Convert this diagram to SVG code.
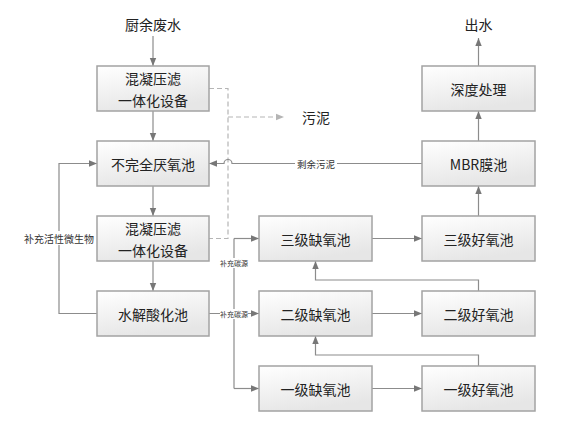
<svg xmlns="http://www.w3.org/2000/svg" width="575" height="426" viewBox="0 0 575 426">
<style>
.box{fill:url(#g);stroke:#a3a3a3;stroke-width:1.5}
.t{font-family:"Noto Sans CJK SC","Noto Sans",sans-serif;font-size:14px;fill:#222;text-anchor:middle;dominant-baseline:central}
.s{font-family:"Noto Sans CJK SC","Noto Sans",sans-serif;fill:#333;text-anchor:middle;dominant-baseline:central}
.ln{fill:none;stroke:#8c8c8c;stroke-width:1.2}
.ar{marker-end:url(#a)}
.d{fill:none;stroke:#b5b5b5;stroke-width:1.2;stroke-dasharray:5,3}
.bg{fill:#fff}
</style>
<defs>
<linearGradient id="g" x1="0" y1="0" x2="0.35" y2="1">
<stop offset="0" stop-color="#ffffff"/>
<stop offset="1" stop-color="#e6e6e6"/>
</linearGradient>
<marker id="a" viewBox="0 0 8 8" refX="8" refY="4" markerWidth="8" markerHeight="8" markerUnits="userSpaceOnUse" orient="auto">
<path d="M0,0.8 L8,4 L0,7.2 z" fill="#777"/>
</marker>
<marker id="ad" viewBox="0 0 8 8" refX="8" refY="4" markerWidth="8" markerHeight="8" markerUnits="userSpaceOnUse" orient="auto">
<path d="M0,0.8 L8,4 L0,7.2 z" fill="#b5b5b5"/>
</marker>
</defs>
<rect width="575" height="426" fill="#fff"/>

<g id="connectors">
<path class="ln ar" d="M153,36 V66"/>
<path class="ln ar" d="M153,111 V141"/>
<path class="ln ar" d="M153,186 V216"/>
<path class="ln ar" d="M153,261 V291"/>
<path class="ln ar" d="M97,313.5 H59 V163.5 H97"/>
<path class="d" d="M209,88.5 H228 V238.5 H209"/>
<path class="d" d="M228,117 H284" marker-end="url(#ad)"/>
<path class="ln ar" d="M422,163.5 H232 A4,4 0 0 0 224,163.5 H209"/>
<path class="ln ar" d="M478.5,141 V111"/>
<path class="ln ar" d="M478.5,66 V38"/>
<path class="ln ar" d="M478.5,216 V186"/>
<path class="ln ar" d="M209,313.5 H259"/>
<path class="ln" d="M234,238.5 V388.5"/>
<path class="ln ar" d="M234,238.5 H259"/>
<path class="ln ar" d="M234,388.5 H259"/>
<path class="ln ar" d="M372,238.5 H422"/>
<path class="ln ar" d="M372,313.5 H422"/>
<path class="ln ar" d="M372,388.5 H422"/>
<path class="ln ar" d="M478.5,291 V280 H315.5 V261"/>
<path class="ln ar" d="M478.5,366 V355 H315.5 V336"/>
<rect class="bg" x="24" y="231" width="70" height="14"/>
<text class="s" x="59" y="238" font-size="10">补充活性微生物</text>
<rect class="bg" x="295" y="157" width="42" height="13"/>
<text class="s" x="316" y="163.5" font-size="9.5">剩余污泥</text>
<rect class="bg" x="220" y="258" width="28" height="10"/>
<text class="s" x="234" y="263" font-size="7">补充碳源</text>
<rect class="bg" x="220" y="309" width="28" height="10"/>
<text class="s" x="234" y="313.5" font-size="7">补充碳源</text>
</g>

<g id="input"><text class="t" x="153" y="24">厨余废水</text></g>
<g id="output"><text class="t" x="478.5" y="24">出水</text></g>
<g id="sludge"><text class="t" x="302" y="117" style="text-anchor:start">污泥</text></g>

<g id="n1"><rect class="box" x="97" y="66" width="112" height="45"/><text class="t" x="153" y="77.5">混凝压滤</text><text class="t" x="153" y="99.5">一体化设备</text></g>
<g id="n2"><rect class="box" x="97" y="141" width="112" height="45"/><text class="t" x="153" y="163.5">不完全厌氧池</text></g>
<g id="n3"><rect class="box" x="97" y="216" width="112" height="45"/><text class="t" x="153" y="227.5">混凝压滤</text><text class="t" x="153" y="249.5">一体化设备</text></g>
<g id="n4"><rect class="box" x="97" y="291" width="112" height="45"/><text class="t" x="153" y="313.5">水解酸化池</text></g>

<g id="n5"><rect class="box" x="259" y="216" width="113" height="45"/><text class="t" x="315.5" y="238.5">三级缺氧池</text></g>
<g id="n6"><rect class="box" x="259" y="291" width="113" height="45"/><text class="t" x="315.5" y="313.5">二级缺氧池</text></g>
<g id="n7"><rect class="box" x="259" y="366" width="113" height="45"/><text class="t" x="315.5" y="388.5">一级缺氧池</text></g>

<g id="n8"><rect class="box" x="422" y="66" width="113" height="45"/><text class="t" x="478.5" y="88.5">深度处理</text></g>
<g id="n9"><rect class="box" x="422" y="141" width="113" height="45"/><text class="t" x="478.5" y="163.5">MBR膜池</text></g>
<g id="n10"><rect class="box" x="422" y="216" width="113" height="45"/><text class="t" x="478.5" y="238.5">三级好氧池</text></g>
<g id="n11"><rect class="box" x="422" y="291" width="113" height="45"/><text class="t" x="478.5" y="313.5">二级好氧池</text></g>
<g id="n12"><rect class="box" x="422" y="366" width="113" height="45"/><text class="t" x="478.5" y="388.5">一级好氧池</text></g>
</svg>
